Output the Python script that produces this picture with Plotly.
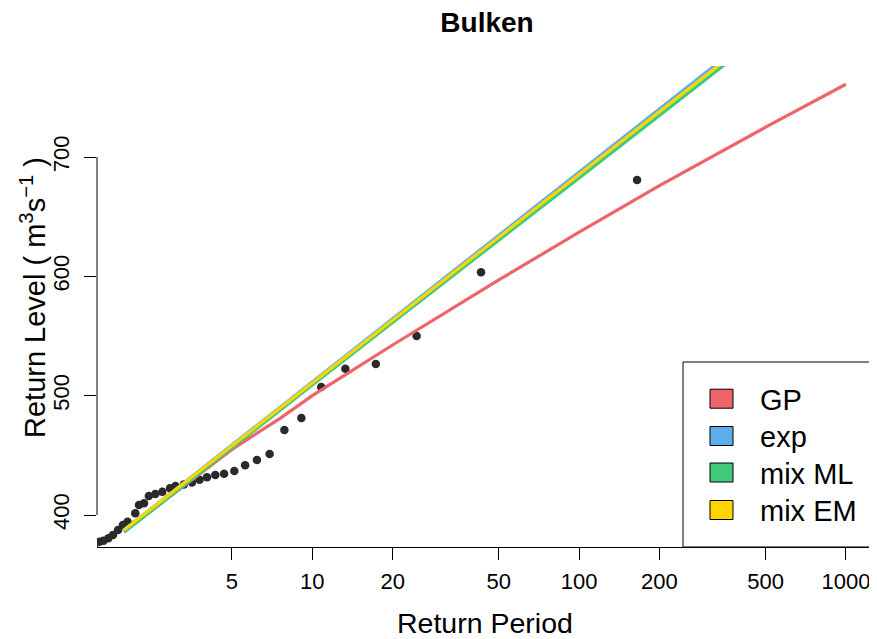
import plotly.graph_objects as go

# ---------------- data ----------------
obs_period = [1.47, 1.52, 1.59, 1.65, 1.72, 1.79, 1.87, 1.95, 2.03, 2.17, 2.24, 2.34,
              2.44, 2.58, 2.74, 2.93, 3.07, 3.30, 3.54, 3.78, 4.03, 4.33, 4.67, 5.10,
              5.60, 6.20, 6.92, 7.86, 9.10, 10.8, 13.3, 17.3, 24.6, 42.9, 164.9]
obs_level = [373.5, 374.5, 377.6, 378.5, 380.5, 383.2, 387.4, 391.6, 394.4, 401.4, 408.4, 409.8,
             416.0, 417.6, 419.5, 422.4, 424.3, 425.5, 427.3, 429.5, 431.6, 433.5, 434.6, 436.8,
             441.8, 446.1, 451.1, 471.2, 481.3, 507.3, 522.6, 526.5, 550.0, 603.4, 680.7]

gp_period = [1.97, 5, 7.57, 10, 20, 50, 100, 200, 500, 1000]
gp_level = [386.3, 455.0, 481.0, 500.0, 542.5, 597.0, 637.0, 676.0, 725.0, 761.0]

fit_period = [1.97, 5, 10, 20, 50, 100, 200, 350]
exp_level = [387.6, 458.6, 511.3, 564.2, 634.2, 687.1, 740.0, 783.0]
mixml_level = [385.5, 456.6, 509.0, 561.4, 630.1, 682.5, 734.9, 777.2]
mixem_level = [387.4, 458.0, 510.5, 563.2, 632.8, 685.4, 738.0, 780.5]

series_names = ["GP", "exp", "mix ML", "mix EM"]
series_colors = ["#EE6468", "#5DADEC", "#41C97C", "#FFD500"]

x_tickvals = [5, 10, 20, 50, 100, 200, 500, 1000]
x_ticktext = ["5", "10", "20", "50", "100", "200", "500", "1000"]
y_tickvals = [400, 500, 600, 700]

FONT = "Liberation Sans, Arial, Helvetica, sans-serif"

fig = go.Figure()

fig.add_trace(go.Scatter(x=obs_period, y=obs_level, mode="markers",
                         marker=dict(size=8.5, color="#2a2a2a"), showlegend=False))

series = [(gp_period, gp_level), (fit_period, exp_level),
          (fit_period, mixml_level), (fit_period, mixem_level)]
for (xs, ys), name, col in zip(series, series_names, series_colors):
    fig.add_trace(go.Scatter(x=xs, y=ys, mode="lines", name=name,
                             line=dict(color=col, width=3.2), showlegend=False))

# page geometry: the figure sits 8 px in from the page corner (body margin)
OFF = 8
W, H = 877 - OFF, 639 - OFF
L, T = 97 - OFF, 66 - OFF
R = W - (875 - OFF)
B = H - (547 - OFF)
pw, ph = W - L - R, H - T - B


def px_x(p):
    return (p - OFF - L) / pw


def px_y(p):
    return (H - B - (p - OFF)) / ph


shapes = []
annotations = []

# R-style y axis line spanning the tick range only
shapes.append(dict(type="line", xref="paper", yref="y", x0=0, x1=0,
                   y0=y_tickvals[0], y1=y_tickvals[-1],
                   line=dict(color="black", width=1)))

# legend box
shapes.append(dict(type="rect", xref="paper", yref="paper",
                   x0=px_x(683), x1=px_x(875), y0=px_y(547), y1=px_y(362),
                   fillcolor="white", line=dict(color="black", width=1), layer="above"))
row_centers = [398.7, 436.0, 472.5, 510.0]
for name, col, yc in zip(series_names, series_colors, row_centers):
    shapes.append(dict(type="rect", xref="paper", yref="paper",
                       x0=px_x(710), x1=px_x(733), y0=px_y(yc + 9.5), y1=px_y(yc - 9.5),
                       fillcolor=col, line=dict(color="black", width=1), layer="above"))
    annotations.append(dict(text=name, xref="paper", yref="paper",
                            x=px_x(758), y=px_y(yc + 1), xanchor="left", yanchor="middle",
                            showarrow=False, font=dict(family=FONT, size=29, color="black")))

# axis titles
annotations.append(dict(text="Return Period", xref="paper", yref="paper",
                        x=px_x(485), y=px_y(623), xanchor="center", yanchor="middle",
                        showarrow=False, font=dict(family=FONT, size=28.5, color="black")))
annotations.append(dict(text="Return Level ( m<sup>3</sup>s<sup>\u22121</sup> )",
                        xref="paper", yref="paper",
                        x=px_x(33), y=px_y(298), xanchor="center", yanchor="middle",
                        textangle=-90, showarrow=False,
                        font=dict(family=FONT, size=29, color="black")))

fig.update_layout(
    width=W, height=H,
    margin=dict(l=L, r=R, t=T, b=B, pad=0),
    paper_bgcolor="white", plot_bgcolor="white",
    font=dict(family=FONT, color="black"),
    title=dict(text="Bulken", x=px_x(487), xref="paper", xanchor="center",
               y=1 - (22 - OFF) / H, yref="container", yanchor="middle",
               font=dict(family=FONT, size=28, color="black", weight="bold")),
    shapes=shapes, annotations=annotations,
    xaxis=dict(type="log", range=[0.193, 3.109],
               tickvals=x_tickvals, ticktext=x_ticktext,
               ticks="outside", ticklen=12, tickwidth=1, tickcolor="black",
               showline=True, linecolor="black", linewidth=1,
               showgrid=False, zeroline=False,
               tickfont=dict(family=FONT, size=22, color="black"),
               ticklabelstandoff=3),
    yaxis=dict(range=[373.2, 776.3], tickvals=y_tickvals,
               ticks="outside", ticklen=12, tickwidth=1, tickcolor="black",
               showline=False, showgrid=False, zeroline=False, tickangle=-90,
               tickfont=dict(family=FONT, size=22, color="black"),
               ticklabelstandoff=6),
)

fig.write_html("out.html")
